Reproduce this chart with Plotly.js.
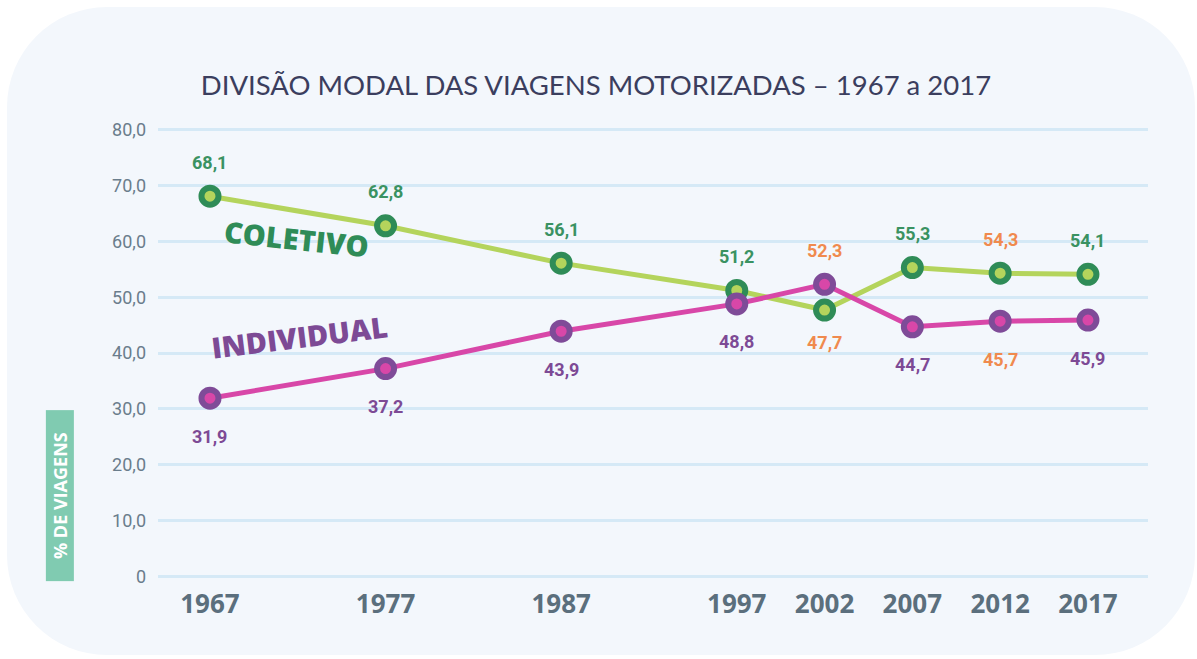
<!DOCTYPE html>
<html>
<head>
<meta charset="utf-8">
<script src="https://cdn.plot.ly/plotly-3.0.1.min.js"></script>
<style>
  html, body { margin: 0; padding: 0; background: #ffffff; }
  #card { position: absolute; left: 7px; top: 7px; width: 1188px; height: 648px;
          border-radius: 100px; background: #f3f7fc; }
  #chart { position: absolute; left: 0; top: 0; width: 1197px; height: 659px; }
</style>
</head>
<body>
<div id="card"></div>
<div id="chart"></div>
<script>
// ---- data ----
const years = [1967, 1977, 1987, 1997, 2002, 2007, 2012, 2017];
const yearLabels = ['1967', '1977', '1987', '1997', '2002', '2007', '2012', '2017'];
const coletivo = [68.1, 62.8, 56.1, 51.2, 47.7, 55.3, 54.3, 54.1];
const individual = [31.9, 37.2, 43.9, 48.8, 52.3, 44.7, 45.7, 45.9];
const highlightYears = [2002, 2012];
const yTickVals = [0, 10, 20, 30, 40, 50, 60, 70, 80];
const yTickText = ['0', '10,0', '20,0', '30,0', '40,0', '50,0', '60,0', '70,0', '80,0'];

// ---- styles ----
const C = {
  colLine: '#b4d45c', colRing: '#2f8c57', colText: '#3a9262',
  indLine: '#d847a8', indRing: '#7f4b98', indText: '#7d4a95',
  orange: '#f08a4e'
};
const fmt = v => v.toFixed(1).replace('.', ',');

const traces = [
  {
    x: years, y: coletivo, type: 'scatter', mode: 'lines+markers', name: 'Coletivo',
    line: { color: C.colLine, width: 5 },
    marker: { size: 17, color: C.colLine, line: { color: C.colRing, width: 6 } },
    hoverinfo: 'x+y'
  },
  {
    x: years, y: individual, type: 'scatter', mode: 'lines+markers', name: 'Individual',
    line: { color: C.indLine, width: 5 },
    marker: { size: 17, color: C.indLine, line: { color: C.indRing, width: 6 } },
    hoverinfo: 'x+y'
  }
];

const annotations = [];
years.forEach((yr, i) => {
  const hl = highlightYears.includes(yr);
  const cAbove = coletivo[i] >= individual[i];
  annotations.push({
    x: yr, y: coletivo[i], xref: 'x', yref: 'y', text: fmt(coletivo[i]), showarrow: false,
    yshift: cAbove ? 34 : -32,
    font: { family: 'Roboto', size: 18, weight: 700, color: hl ? C.orange : C.colText }
  });
  annotations.push({
    x: yr, y: individual[i], xref: 'x', yref: 'y', text: fmt(individual[i]), showarrow: false,
    yshift: cAbove ? -38 : 34,
    font: { family: 'Roboto', size: 18, weight: 700, color: hl ? C.orange : C.indText }
  });
});

// series name labels
annotations.push({
  x: 1971.95, y: 60.6, xref: 'x', yref: 'y', text: 'COLETIVO', showarrow: false,
  textangle: 6, font: { family: 'Open Sans', size: 29, weight: 800, color: C.colRing }
});
annotations.push({
  x: 1972.1, y: 42.9, xref: 'x', yref: 'y', text: 'INDIVIDUAL', showarrow: false,
  textangle: -7, font: { family: 'Open Sans', size: 29, weight: 800, color: C.indText }
});

// plot geometry helpers (pixel -> paper)
const plotTop = 127.2, plotBottom = 578.8, plotLeft = 158, plotRight = 1148;
const px2paperX = px => (px - plotLeft) / (plotRight - plotLeft);
const py2paperY = py => (plotBottom - py) / (plotBottom - plotTop);

// y axis title box
annotations.push({
  x: px2paperX(59.5), y: py2paperY(496), xref: 'paper', yref: 'paper',
  xanchor: 'center', yanchor: 'middle',
  text: '% DE VIAGENS', showarrow: false, textangle: -90,
  width: 170, height: 27, bgcolor: '#80cbb1', borderpad: 0,
  font: { family: 'Open Sans', size: 18, weight: 700, color: '#ffffff' }
});

const layout = {
  width: 1197, height: 659,
  margin: { l: plotLeft, r: 1197 - plotRight, t: plotTop, b: 659 - plotBottom },
  paper_bgcolor: 'rgba(0,0,0,0)', plot_bgcolor: 'rgba(0,0,0,0)',
  showlegend: false,
  title: {
    text: 'DIVISÃO MODAL DAS VIAGENS MOTORIZADAS – 1967 a 2017',
    xref: 'container', yref: 'container', x: 596 / 1197, y: 1 - 85 / 659,
    xanchor: 'center', yanchor: 'middle',
    font: { family: 'Lato', size: 27.5, color: '#3b3e5e' }
  },
  xaxis: {
    range: [1964.04, 2020.42], tickvals: years, ticktext: yearLabels,
    showgrid: false, zeroline: false, showline: false, ticks: '',
    ticklabelstandoff: 7,
    tickfont: { family: 'Open Sans', size: 26, weight: 700, color: '#5b6f7d' },
    fixedrange: true
  },
  yaxis: {
    range: [-0.5, 80.5], tickvals: yTickVals, ticktext: yTickText,
    showgrid: true, gridcolor: '#d5e9f6', gridwidth: 3, zeroline: false, showline: false,
    ticks: '', ticklabelstandoff: 11,
    tickfont: { family: 'Roboto', size: 18, color: '#6a7d8c' },
    fixedrange: true
  },
  annotations: annotations
};

Plotly.newPlot('chart', traces, layout, { displayModeBar: false, staticPlot: true });
</script>
</body>
</html>
